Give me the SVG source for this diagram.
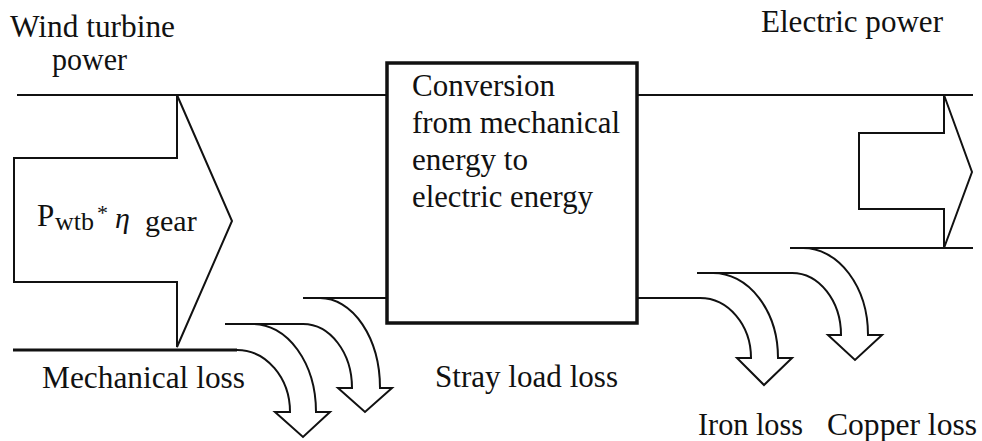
<svg xmlns="http://www.w3.org/2000/svg" width="982" height="441" viewBox="0 0 982 441" font-family="Liberation Serif, Times New Roman, serif">
<style>
text{font-family:Liberation Serif, Times New Roman, serif;font-size:31px;fill:#111}
.ln{fill:none;stroke:#111;stroke-width:2.2}
.thick{fill:none;stroke:#111;stroke-width:3.2}
.ar{fill:#fff;stroke:#111;stroke-width:2;stroke-linejoin:miter}
.cv{fill:none;stroke:#111;stroke-width:2;stroke-linejoin:miter}
</style>
<rect width="982" height="441" fill="#fff"/>
<g id="connectors">
<path class="ln" d="M17,95 H387"/>
<path class="ln" d="M637,95 H973"/>
<path class="thick" d="M13,350 H237"/>
<path class="ln" d="M225,324 H303"/>
<path class="ln" d="M303,298 H387"/>
<path class="ln" d="M637,298 H700"/>
<path class="ln" d="M697,273 H792"/>
<path class="ln" d="M790,248 H973"/>
</g>
<g id="input-arrow">
<path class="ar" d="M177,95 L232,221 L177,347 L177,282 L14,282 L14,158 L177,158 Z"/>
<text x="37" y="226" font-size="32">P<tspan x="55" y="230" font-size="26">wtb</tspan><tspan x="97" y="220" font-size="22">*</tspan><tspan x="115" y="228" font-size="30" font-style="italic">η</tspan><tspan x="145" y="231" font-size="30">gear</tspan></text>
</g>
<g id="output-arrow">
<path class="ar" d="M944,95 L972,172 L944,248 L944,209 L859,209 L859,133 L944,133 Z"/>
</g>
<g id="converter">
<rect x="387" y="63" width="250" height="260" fill="#fff" stroke="#111" stroke-width="3.5"/>
<text x="412" y="96" textLength="143" lengthAdjust="spacingAndGlyphs">Conversion</text>
<text x="412" y="133" textLength="208" lengthAdjust="spacingAndGlyphs">from mechanical</text>
<text x="412" y="170" textLength="116" lengthAdjust="spacingAndGlyphs">energy to</text>
<text x="412" y="207" textLength="181" lengthAdjust="spacingAndGlyphs">electric energy</text>
</g>
<g id="mechanical-loss">
<path class="cv" d="M237,350 A53,62 0 0 1 290,412 L275,412 L303,437 L330,412 L316,412 A63,88 0 0 0 253,324"/>
<text x="42" y="388" textLength="203" lengthAdjust="spacingAndGlyphs">Mechanical loss</text>
</g>
<g id="stray-load-loss">
<path class="cv" d="M303,324 A49,64 0 0 1 352,388 L338,388 L365,412 L392,388 L380,388 A60,90 0 0 0 320,298"/>
<text x="435" y="387" textLength="183" lengthAdjust="spacingAndGlyphs">Stray load loss</text>
</g>
<g id="iron-loss">
<path class="cv" d="M700,298 A51,60 0 0 1 751,358 L737,358 L764,385 L792,358 L778,358 A65,85 0 0 0 713,273"/>
<text x="698" y="435" textLength="105" lengthAdjust="spacingAndGlyphs">Iron loss</text>
</g>
<g id="copper-loss">
<path class="cv" d="M792,273 A49,62 0 0 1 841,335 L828,335 L855,360 L882,335 L868,335 A65,87 0 0 0 803,248"/>
<text x="827" y="435" textLength="150" lengthAdjust="spacingAndGlyphs">Copper loss</text>
</g>
<g id="labels">
<text x="10" y="37" textLength="165" lengthAdjust="spacingAndGlyphs">Wind turbine</text>
<text x="52" y="70" textLength="75" lengthAdjust="spacingAndGlyphs">power</text>
<text x="761" y="32" textLength="182" lengthAdjust="spacingAndGlyphs">Electric power</text>
</g>
</svg>
